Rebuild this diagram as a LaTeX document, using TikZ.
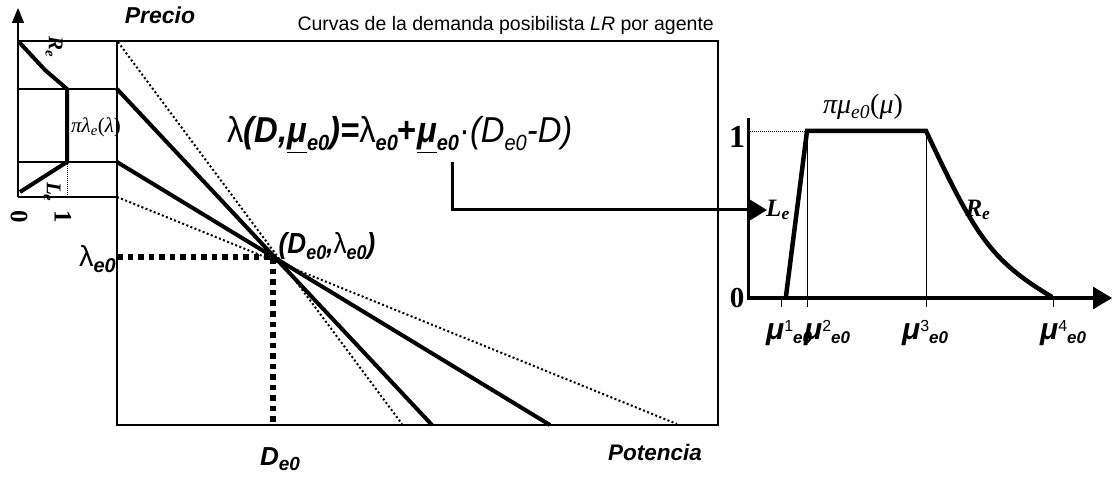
\documentclass[tikz,border=0pt]{standalone}
\usepackage{fontspec}
\setmainfont{Liberation Serif}
\setsansfont{Liberation Sans}
\usetikzlibrary{arrows.meta}
\newcommand{\fsz}[1]{\fontsize{#1}{#1}\selectfont}
\newcommand{\fsub}[2][22]{\raisebox{-0.2em}{\fsz{#1}#2}}
\newcommand{\mulab}[1]{{\fsz{30}\textbf{\textit{μ}}}\raisebox{8pt}{\fsz{16}#1}\raisebox{-4pt}{\fsz{17}\textbf{\textit{e0}}}}
\begin{document}
\begin{tikzpicture}[x=1pt,y=-1pt,
  boxln/.style={line width=1.2pt},
  thinln/.style={line width=0.9pt},
  curveln/.style={line width=4pt},
  dotln/.style={line width=2pt, dash pattern=on 2pt off 2.4pt},
  sqdash/.style={line width=5.5pt, dash pattern=on 5.5pt off 5pt},
  sbi/.style={font=\sffamily\bfseries\itshape\fsz{#1}},
  lbl/.style={inner sep=0pt}
]
\useasboundingbox (0,0) rectangle (1116,478);
% ---------- coordinates
\coordinate (P) at (273,257);
\coordinate (axB) at (18,197);
\coordinate (axT) at (18,8);
% ---------- main box and left small plot frame
\draw[boxln] (18,41) -- (718,41) -- (718,425) -- (117,425) -- (117,41);
\draw[boxln] (18,89) -- (117,89);
\draw[boxln] (18,162) -- (117,162);
\draw[boxln] (18,197) -- (117,197);
\draw[boxln, -{Triangle[length=15pt,width=12pt]}] (axB) -- (axT);
% small possibility function
\draw[curveln, line join=miter] (19,42) -- (45,70) -- (67,89) -- (67,162) -- (20,192);
\draw[thinln, dash pattern=on 1pt off 1pt] (67,162) -- (67,197);
% ---------- demand lines
\draw[dotln] (118,42) -- (402,424);
\draw[curveln] (117,89) -- (432,425);
\draw[curveln] (117,162) -- (550,425);
\draw[dotln] (117,197) -- (677,424);
\draw[sqdash] (117,257) -- (P) -- (273,425);
% ---------- labels main plot
\node[sbi=23] (precio) at (160,15) {Precio};
\node[font=\sffamily\fsz{19.5}, anchor=base east, lbl] (title) at (714,31) {Curvas de la demanda posibilista \textit{LR} por agente};
\node[sbi=22.5] (pot) at (655,452) {Potencia};
\node[sbi=26, lbl] (de0) at (280,459) {D\fsub[19]{e0}};
\node[sbi=29, anchor=east, lbl] (le0) at (116,259) {{\upshape\mdseries λ}\fsub[20]{e0}};
\node[sbi=29, lbl] (pt) at (327,246) {\scalebox{0.9}[1]{(D\fsub[20]{e0},{\upshape\mdseries λ}\fsub[20]{e0})}};
\node[font=\sffamily\fsz{36}, anchor=base west, lbl] (formula) at (227,143)
  {\scalebox{0.91}[1]{λ\textbf{\textit{(D,\underline{μ}\fsub{e0})=}}λ\fsub{\textbf{\textit{e0}}}\textbf{+}\textbf{\textit{\underline{μ}\fsub{e0}}}·\textit{(D\fsub{e0}-D)}}};
% ---------- small plot labels
\node[font=\itshape\fsz{21}, lbl] (pil) at (96,127) {πλ\textsubscript{e}{\upshape(}λ{\upshape)}};
\node[font=\bfseries\itshape\fsz{21}, rotate=-90] (Rl) at (54,47) {R\textsubscript{e}};
\node[font=\bfseries\itshape\fsz{21}, rotate=-90] (Ll) at (52,192) {L\textsubscript{e}};
\node[font=\bfseries\fsz{25}, rotate=-90] (z0) at (19,217) {0};
\node[font=\bfseries\fsz{25}, rotate=-90] (z1) at (63,217) {1};
% ---------- right plot
\coordinate (fa) at (452,162);
\coordinate (fe) at (767,210);
\draw[line width=3pt, -{Triangle[length=17pt,width=20pt]}] (fa) |- (fe);
\draw[line width=3pt] (748,118) -- (748,299.5);
\draw[line width=3pt, -{Triangle[length=19pt,width=22pt]}] (746.5,298) -- (1112,298);
\draw[thinln, dash pattern=on 1pt off 1pt] (748,131) -- (807,131);
\draw[thinln] (807,131) -- (807,307);
\draw[thinln] (926,131) -- (926,307);
\draw[thinln] (781,298) -- (781,307);
\draw[thinln] (1053,298) -- (1053,307);
\draw[line width=4.5pt, line join=miter] (786,296) -- (807,131) -- (926,131)
   .. controls (975,235) and (990,260) .. (1052,297);
\node[font=\bfseries\fsz{32}] (one) at (737,137) {1};
\node[font=\bfseries\fsz{29}] (zero) at (737,298) {0};
\node[font=\itshape\fsz{28}] (pimu) at (863,107) {πμ\textsubscript{e0}{\upshape(}μ{\upshape)}};
\node[font=\bfseries\itshape\fsz{25}] (Le) at (778,210) {L\textsubscript{e}};
\node[font=\bfseries\itshape\fsz{25}] (Re) at (978,210) {R\textsubscript{e}};
\node[font=\sffamily, anchor=west, lbl] (m1) at (766,333) {\mulab{1}};
\node[font=\sffamily, anchor=west, lbl] (m2) at (804,333) {\mulab{2}};
\node[font=\sffamily, anchor=west, lbl] (m3) at (902,333) {\mulab{3}};
\node[font=\sffamily, anchor=west, lbl] (m4) at (1040,333) {\mulab{4}};
\end{tikzpicture}
\end{document}
